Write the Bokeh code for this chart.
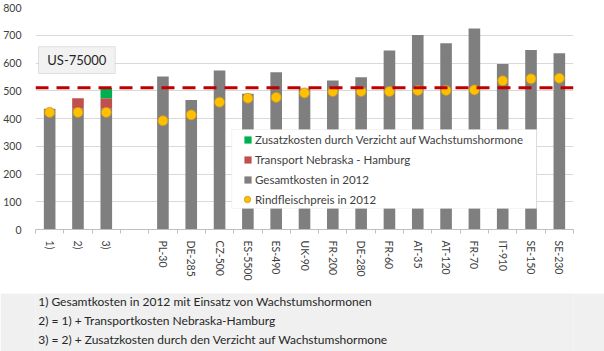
from bokeh.plotting import figure
from bokeh.models import (ColumnDataSource, Range1d, FixedTicker, Span, BoxAnnotation,
                          Label, Legend, LegendItem)
from bokeh.layouts import column
from bokeh.embed import file_html
from bokeh.resources import INLINE

categories = ["1)", "2)", "3)", "", "PL-30", "DE-285", "CZ-500", "ES-5500", "ES-490",
              "UK-90", "FR-200", "DE-280", "FR-60", "AT-35", "AT-120", "FR-70",
              "IT-910", "SE-150", "SE-230"]
nan = float("nan")
gesamtkosten = [435, 435, 435, nan, 551, 467, 573, 489, 567, 507, 537, 549, 645,
                701, 671, 724, 596, 647, 635]
transport = [0, 38, 38, nan, 0, 0, 0, 0, 0, 0, 0, 0, 0, 0, 0, 0, 0, 0, 0]
zusatzkosten = [0, 0, 38, nan, 0, 0, 0, 0, 0, 0, 0, 0, 0, 0, 0, 0, 0, 0, 0]
rindfleischpreis = [422, 422, 422, nan, 392, 413, 459, 473, 476, 492, 497, 497, 497,
                    501, 501, 503, 536, 543, 545]
us_kosten = 511
us_label = "US-75000"
y_ticks = [0, 100, 200, 300, 400, 500, 600, 700, 800]
series_names = ["Zusatzkosten durch Verzicht auf Wachstumshormone",
                "Transport Nebraska - Hamburg",
                "Gesamtkosten in 2012",
                "Rindfleischpreis in 2012"]
footnotes = ["1) Gesamtkosten in 2012 mit Einsatz von Wachstumshormonen",
             "2) = 1) + Transportkosten Nebraska-Hamburg",
             "3) = 2) + Zusatzkosten durch den Verzicht auf Wachstumshormone"]

FONT = "Lato"
TXT = "#404040"

xs = list(range(len(categories)))
src = ColumnDataSource(dict(x=xs, gesamt=gesamtkosten, transport=transport,
                            zusatz=zusatzkosten, preis=rindfleischpreis))

p = figure(width=604, height=293, output_backend="svg", toolbar_location=None,
           x_range=Range1d(-0.5, len(categories) - 0.5), y_range=Range1d(0, 800),
           min_border_left=33, min_border_right=31, min_border_top=7, min_border_bottom=64)
p.outline_line_color = None
p.xgrid.grid_line_color = None
p.ygrid.grid_line_color = "#D9D9D9"

bars = p.vbar_stack(["gesamt", "transport", "zusatz"], x="x", width=0.41,
                    color=["#7F7F7F", "#C0504D", "#00B050"], line_color=None, source=src)
dots = p.scatter("x", "preis", source=src, size=10, marker="circle",
                 fill_color="#FFC000", line_color="#C8962A", line_width=0.8)

# axes
p.yaxis.ticker = FixedTicker(ticks=y_ticks)
p.yaxis.axis_line_color = None
p.yaxis.major_tick_line_color = None
p.yaxis.minor_tick_line_color = None
p.yaxis.major_label_standoff = 8
p.yaxis.major_label_text_font = FONT
p.yaxis.major_label_text_font_size = "10.5px"
p.yaxis.major_label_text_color = TXT

p.xaxis.ticker = FixedTicker(ticks=xs, minor_ticks=[i - 0.5 for i in range(len(categories) + 1)])
p.xaxis.major_label_overrides = {float(i): c for i, c in enumerate(categories)}
p.xaxis.major_label_orientation = "vertical"
p.xaxis.axis_line_color = "#BFBFBF"
p.xaxis.major_tick_line_color = None
p.xaxis.major_tick_out = 0
p.xaxis.major_tick_in = 0
p.xaxis.minor_tick_line_color = "#BFBFBF"
p.xaxis.minor_tick_out = 4
p.xaxis.minor_tick_in = 0
p.xaxis.major_label_standoff = 7
p.xaxis.major_label_text_font = FONT
p.xaxis.major_label_text_font_size = "10.5px"
p.xaxis.major_label_text_color = TXT

# reference line
p.add_layout(Span(location=us_kosten, dimension="width", line_color="#C00000",
                  line_width=3, line_dash="13 8"))

# US-75000 box
p.add_layout(BoxAnnotation(left=-0.394, right=2.315, bottom=562, top=659,
                           fill_color="#F2F2F2", fill_alpha=1,
                           line_color="#A6A6A6", line_width=1))
p.add_layout(Label(x=0.96, y=610, text=us_label, text_align="center",
                   text_baseline="middle", text_font=FONT, text_font_size="13px",
                   text_color="#262626"))

# legend box + legends
p.add_layout(BoxAnnotation(left=6.43, right=17.2, bottom=75.7, top=360.4,
                           fill_color="white", fill_alpha=1,
                           line_color="#D9D9D9", line_width=1))
legend_common = dict(orientation="vertical", background_fill_alpha=0,
                     border_line_color=None, padding=0, margin=0,
                     label_text_font=FONT, label_text_font_size="11.5px",
                     label_text_color=TXT)
legend = Legend(items=[LegendItem(label=series_names[0], renderers=[bars[2]]),
                       LegendItem(label=series_names[1], renderers=[bars[1]]),
                       LegendItem(label=series_names[2], renderers=[bars[0]])],
                location=(208, 42), spacing=4, label_height=16,
                glyph_height=9, glyph_width=9, label_standoff=3, **legend_common)
p.add_layout(legend)
legend2 = Legend(items=[LegendItem(label=series_names[3], renderers=[dots])],
                 location=(204, 22), label_height=16,
                 glyph_height=16, glyph_width=16, label_standoff=0, **legend_common)
p.add_layout(legend2)

# footnote panel
n = figure(width=604, height=58, output_backend="svg", toolbar_location=None,
           x_range=Range1d(0, 604), y_range=Range1d(58, 0),
           x_axis_type=None, y_axis_type=None, min_border=0)
n.outline_line_color = None
n.background_fill_color = "#F0F0F0"
n.border_fill_color = "#F0F0F0"
for i, t in enumerate(footnotes):
    n.add_layout(Label(x=3, y=8 + 19 * i, text=t, text_align="left",
                       text_baseline="middle", text_font=FONT,
                       text_font_size="12px", text_color="#262626"))

layout = column(p, n, spacing=0)
open("out.html", "w").write(file_html(layout, INLINE))
